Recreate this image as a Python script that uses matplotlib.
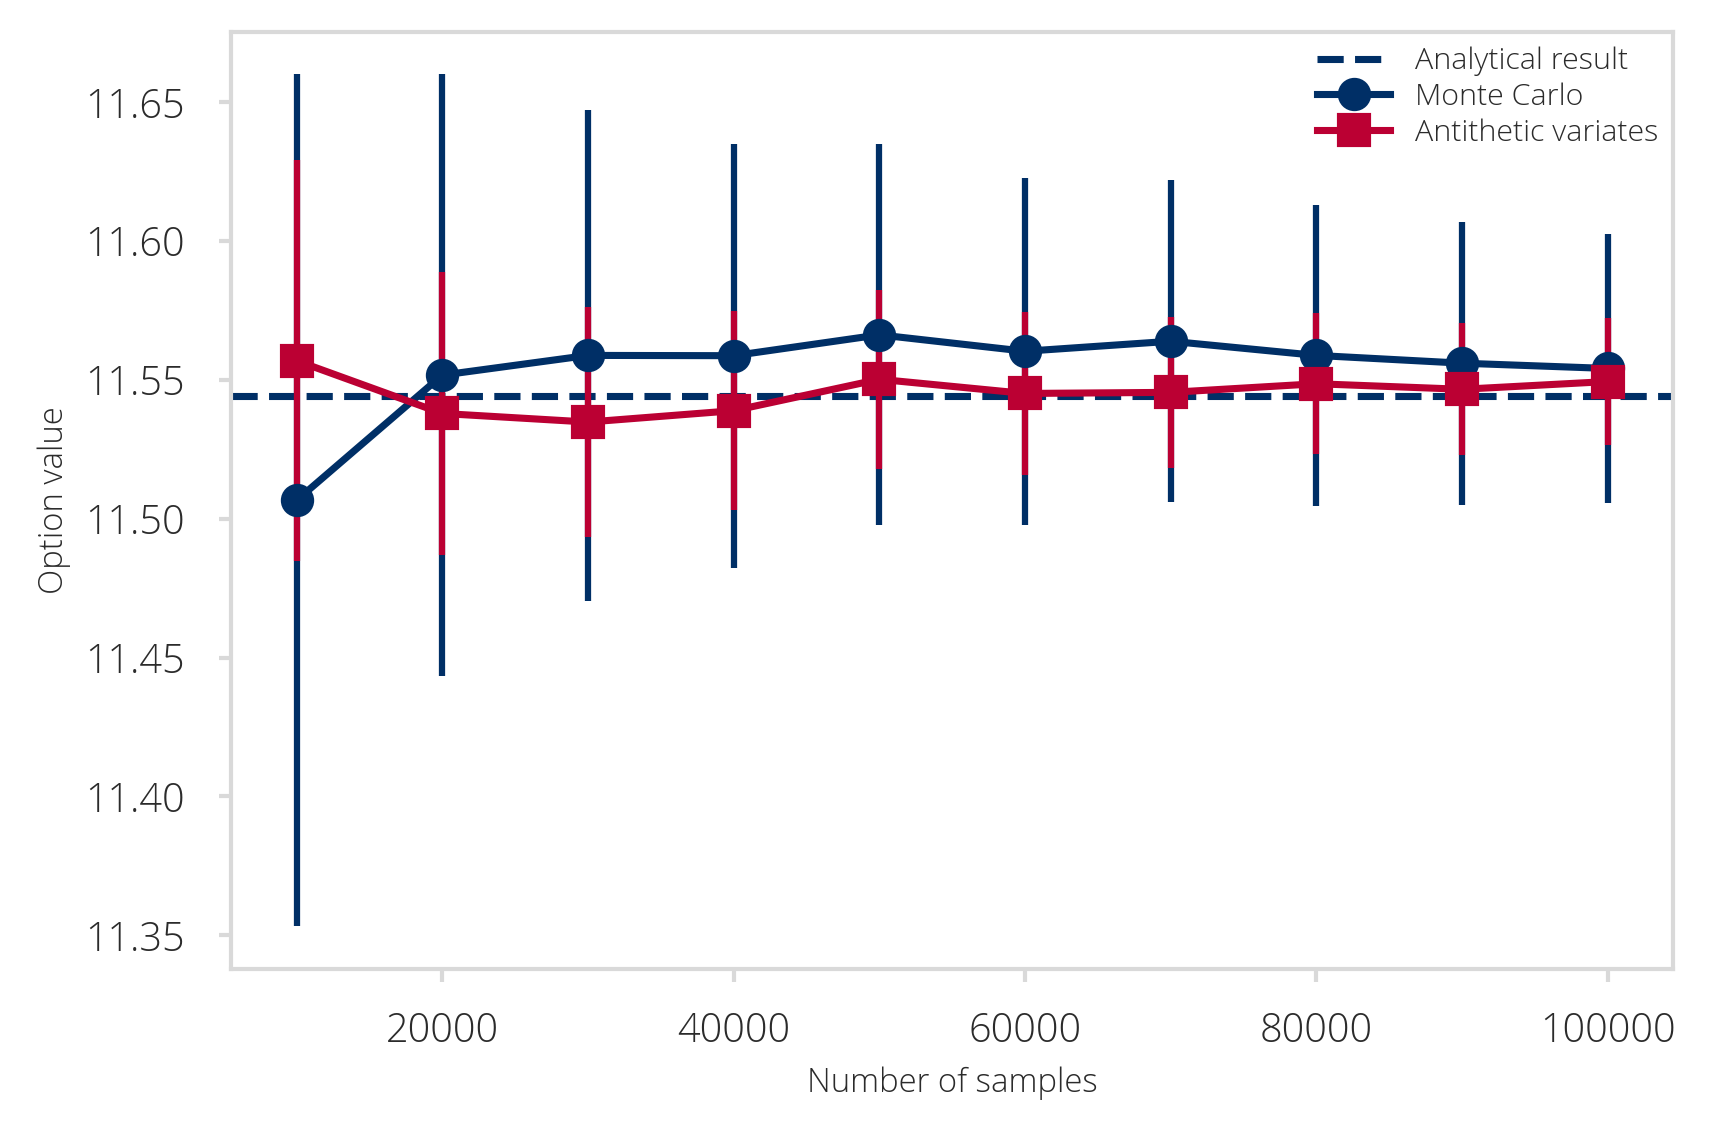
import matplotlib
matplotlib.use("Agg")
import matplotlib.pyplot as plt

plt.rcParams["font.family"] = ["Open Sans", "DejaVu Sans"]
plt.rcParams["font.weight"] = "light"
plt.rcParams["axes.labelweight"] = "light"

# values
samples = [10000, 20000, 30000, 40000, 50000, 60000, 70000, 80000, 90000, 100000]
analytical = 11.5443

mc_mean = [11.5066, 11.5517, 11.5588, 11.5587, 11.5662, 11.5603, 11.5639, 11.5588, 11.5560, 11.5541]
mc_err = [0.1534, 0.1083, 0.0885, 0.0764, 0.0686, 0.0625, 0.0579, 0.0542, 0.0510, 0.0484]

av_mean = [11.5569, 11.5379, 11.5348, 11.5389, 11.5502, 11.5451, 11.5455, 11.5486, 11.5466, 11.5494]
av_err = [0.0722, 0.0508, 0.0414, 0.0359, 0.0322, 0.0294, 0.0272, 0.0254, 0.0238, 0.0228]

blue = "#002f66"
red = "#bb0033"
grey = "#d9d9d9"
txt = "#2b2b2b"

fig = plt.figure(figsize=(1711 / 300, 1134 / 300), dpi=300)
ax = fig.add_axes([0.135, 0.1455, 0.843, 0.8265])

ax.axhline(analytical, color=blue, ls="--", lw=1.7, label="Analytical result")
ax.errorbar(samples, mc_mean, yerr=mc_err, color=blue, marker="o", ms=7, lw=1.7,
            elinewidth=1.5, capsize=0, label="Monte Carlo")
ax.errorbar(samples, av_mean, yerr=av_err, color=red, marker="s", ms=7, lw=1.7,
            elinewidth=1.5, capsize=0, label="Antithetic variates")

ax.set_xlim(5500, 104500)
ax.set_yticks([11.35, 11.40, 11.45, 11.50, 11.55, 11.60, 11.65])
ax.set_yticklabels(["%.2f" % v for v in ax.get_yticks()])
ax.set_xticks([20000, 40000, 60000, 80000, 100000])

for s in ax.spines.values():
    s.set_color(grey)
    s.set_linewidth(1.0)
ax.tick_params(axis="both", colors=grey, labelcolor=txt, labelsize=9.5, width=1.0, length=3)
ax.tick_params(axis="x", pad=7)
ax.tick_params(axis="y", pad=8)

ax.set_xlabel("Number of samples", fontsize=7.9, color=txt, labelpad=3.5)
ax.set_ylabel("Option value", fontsize=7.9, color=txt, labelpad=3.5)

leg = ax.legend(loc="upper right", frameon=False, fontsize=7.3, handlelength=2.4,
                labelspacing=0.2, borderaxespad=0.1)
for t in leg.get_texts():
    t.set_color(txt)

fig.savefig("out.png", dpi=300)
